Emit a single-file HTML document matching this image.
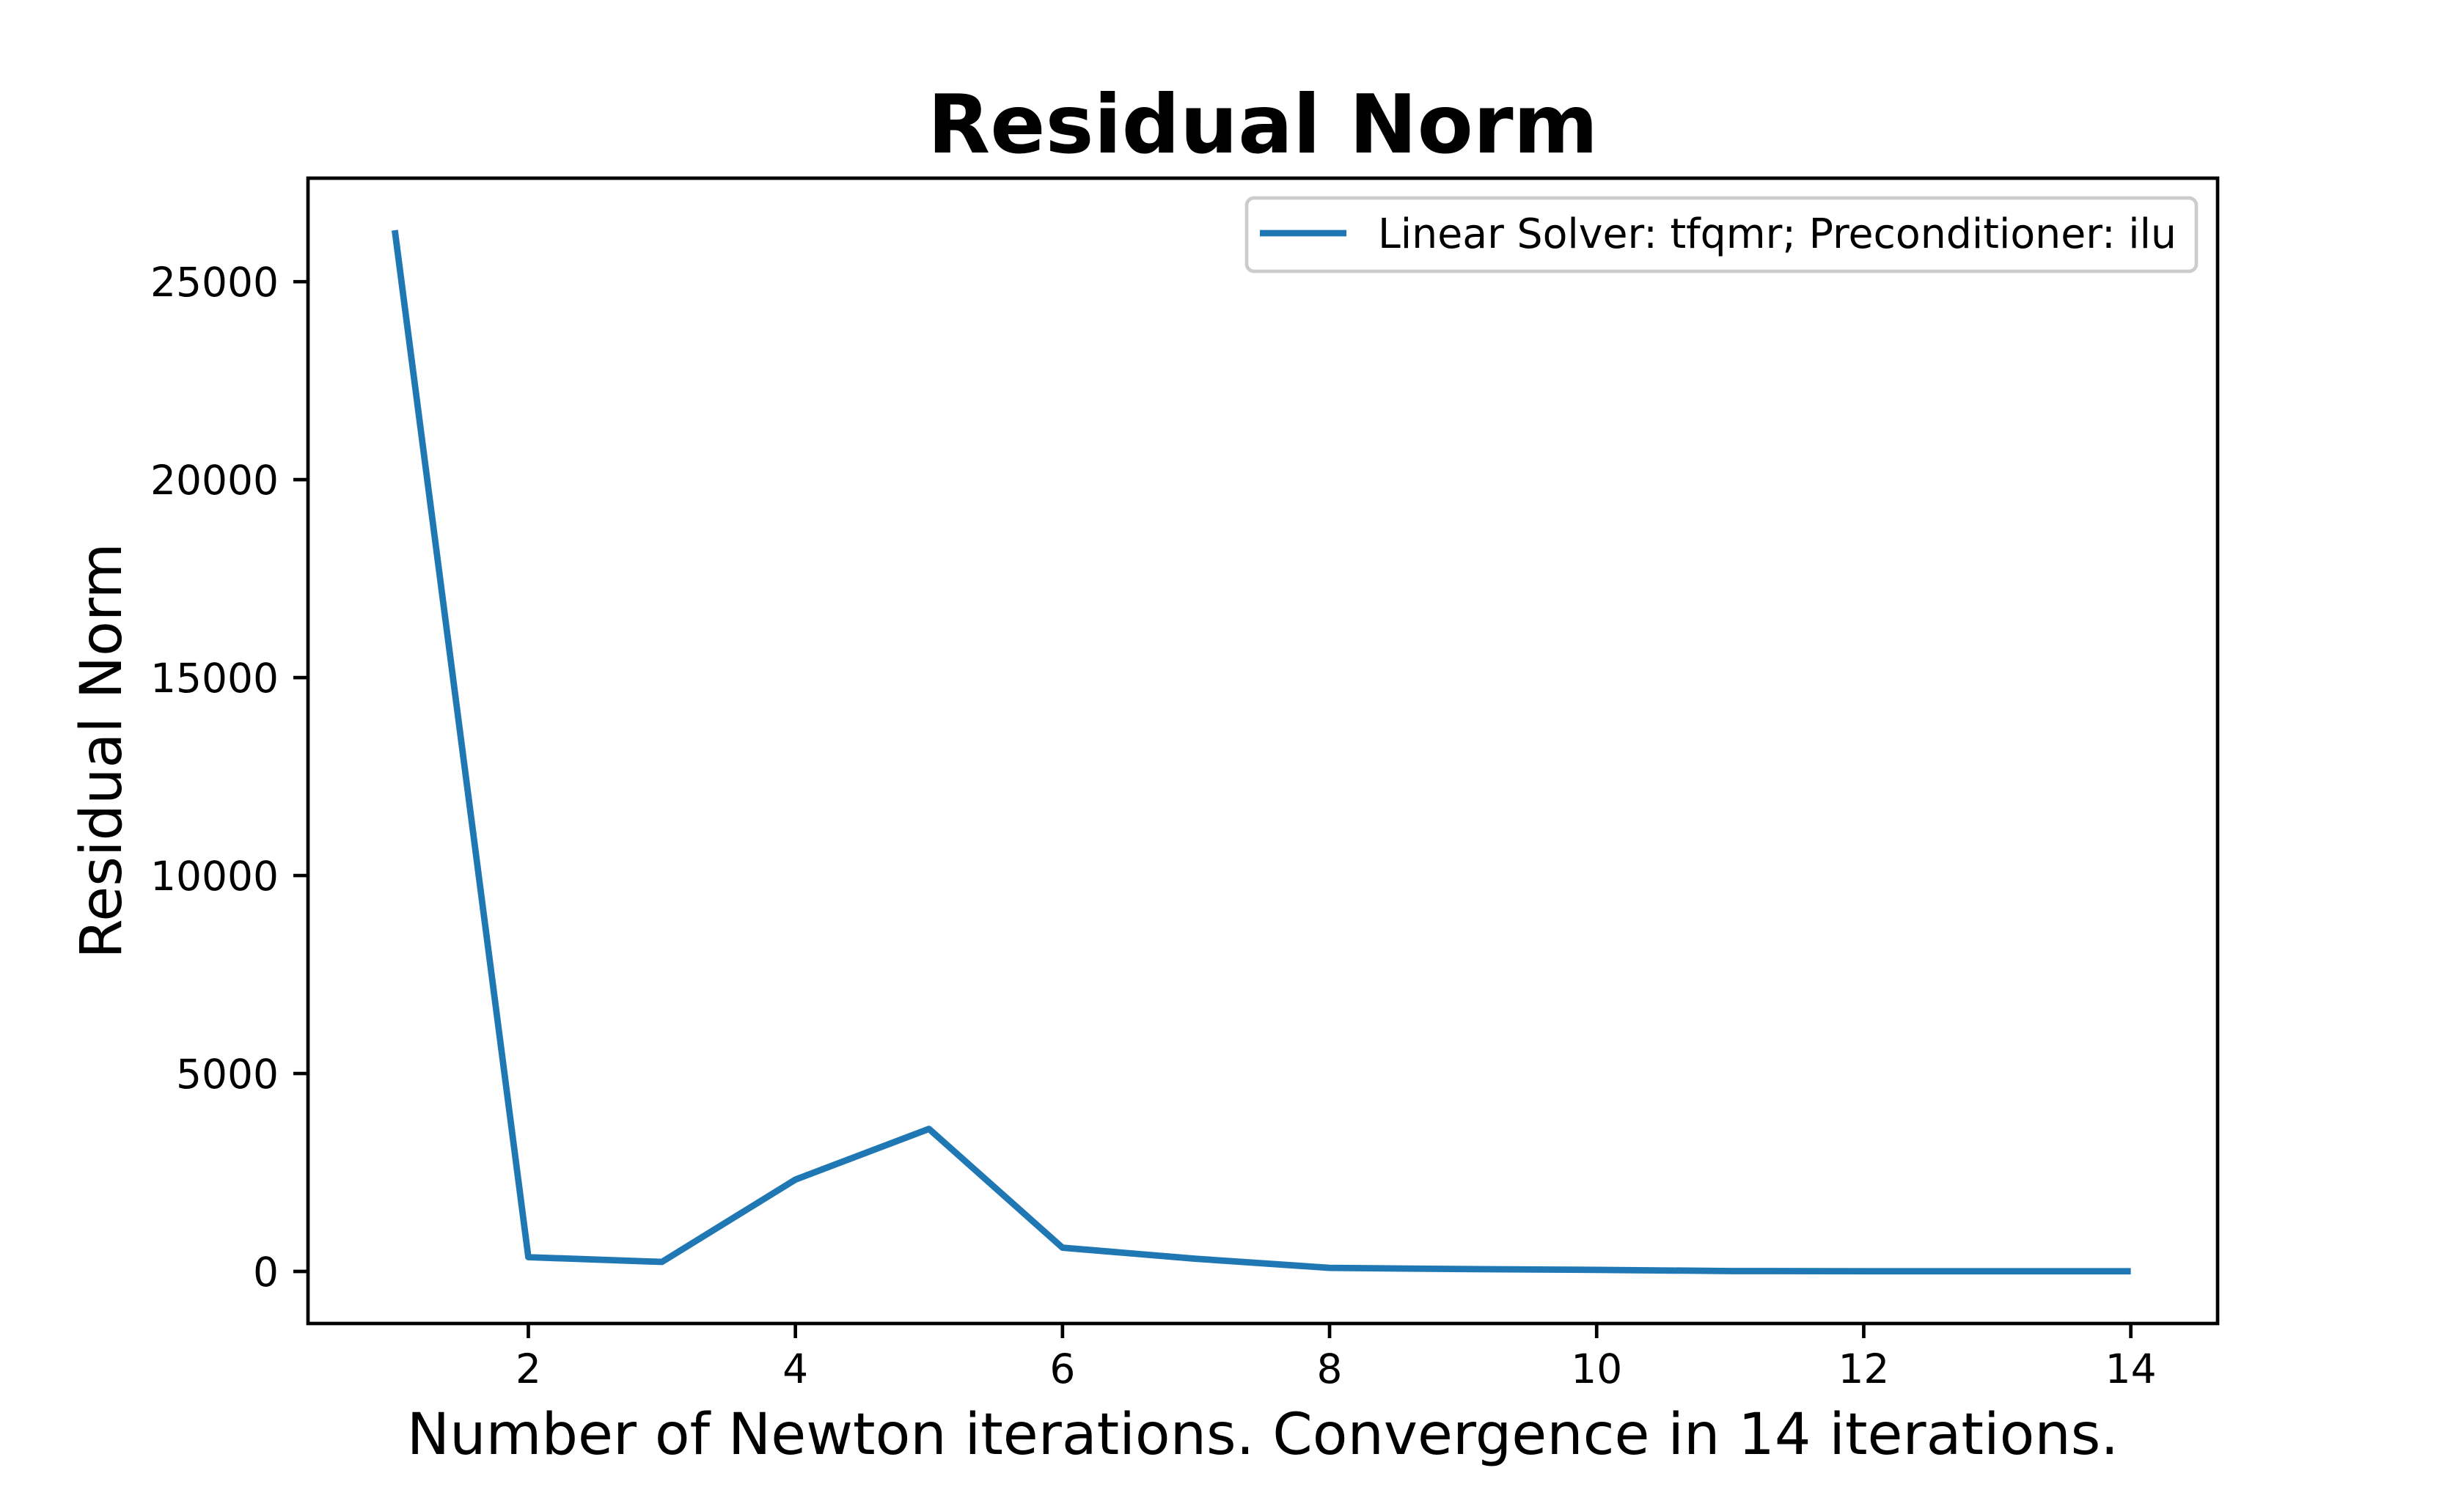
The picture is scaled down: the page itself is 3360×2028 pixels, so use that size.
<!DOCTYPE html>
<html><head><meta charset="utf-8"><style>
html,body{margin:0;padding:0;background:#fff;}
svg{display:block;font-family:"DejaVu Sans","Liberation Sans",sans-serif;}
</style></head><body>
<svg id="chart" width="3360" height="2028" viewBox="0 0 3360 2028">
<rect width="3360" height="2028" fill="#fff"/>
<text x="1722" y="208" font-size="111" font-weight="bold" text-anchor="middle">Residual Norm</text>
<text transform="translate(165,1024) rotate(-90)" font-size="78" text-anchor="middle">Residual Norm</text>
<text x="1722" y="1983" font-size="78" text-anchor="middle">Number of Newton iterations. Convergence in 14 iterations.</text>
<g id="xticks"></g>
<g id="yticks"></g>
<g id="series"></g>
<rect x="420" y="243" width="2604" height="1562" fill="none" stroke="#000" stroke-width="4.7"/>
<g>
<rect x="1700" y="270" width="1295" height="100" rx="10" fill="#fff" fill-opacity="0.8" stroke="#ccc" stroke-width="4.7"/>
<line x1="1718" y1="318" x2="1836" y2="318" stroke="#1f77b4" stroke-width="8.75"/>
<text x="1879" y="338" font-size="56" textLength="1089" lengthAdjust="spacingAndGlyphs">Linear Solver: tfqmr; Preconditioner: ilu</text>
</g>
</svg>
<script>
const iterations = [1,2,3,4,5,6,7,8,9,10,11,12,13,14];
const residuals = [26300,360,240,2320,3600,600,320,90,60,40,10,5,5,5];
const xTickValues = [2,4,6,8,10,12,14];
const yTickValues = [0,5000,10000,15000,20000,25000];
const yTickLabels = ["0","5000","10000","15000","20000","25000"];

const L=420,R=3024,T=243,B=1805;
const xMin=0.35,xMax=14.65,yMin=-1315,yMax=27615;
function xs(v){return L+(v-xMin)/(xMax-xMin)*(R-L);}
function ys(v){return B-(v-yMin)/(yMax-yMin)*(B-T);}
const NS="http://www.w3.org/2000/svg";
const xg=document.getElementById('xticks'), yg=document.getElementById('yticks'), sg=document.getElementById('series');
xTickValues.forEach(v=>{
  const l=document.createElementNS(NS,'line');
  l.setAttribute('x1',xs(v));l.setAttribute('x2',xs(v));l.setAttribute('y1',B);l.setAttribute('y2',B+20);
  l.setAttribute('stroke','#000');l.setAttribute('stroke-width','4.7');
  
  
  xg.appendChild(l);
  const t=document.createElementNS(NS,'text');
  t.setAttribute('x',xs(v));t.setAttribute('y',1886);t.setAttribute('font-size','55');t.setAttribute('text-anchor','middle');
  t.textContent=String(v);
  
  
  xg.appendChild(t);
});
yTickValues.forEach((v,i)=>{
  const l=document.createElementNS(NS,'line');
  l.setAttribute('x1',L-20);l.setAttribute('x2',L);l.setAttribute('y1',ys(v));l.setAttribute('y2',ys(v));
  l.setAttribute('stroke','#000');l.setAttribute('stroke-width','4.7');
  
  
  yg.appendChild(l);
  const t=document.createElementNS(NS,'text');
  t.setAttribute('x',L-40);t.setAttribute('y',ys(v)+20);t.setAttribute('font-size','55');t.setAttribute('text-anchor','end');
  t.textContent=yTickLabels[i];
  
  
  yg.appendChild(t);
});
const p=document.createElementNS(NS,'polyline');
p.setAttribute('points',iterations.map((x,i)=>xs(x)+','+ys(residuals[i])).join(' '));
p.setAttribute('fill','none');p.setAttribute('stroke','#1f77b4');p.setAttribute('stroke-width','8.75');
p.setAttribute('stroke-linejoin','round');


sg.appendChild(p);
</script>
</body></html>
